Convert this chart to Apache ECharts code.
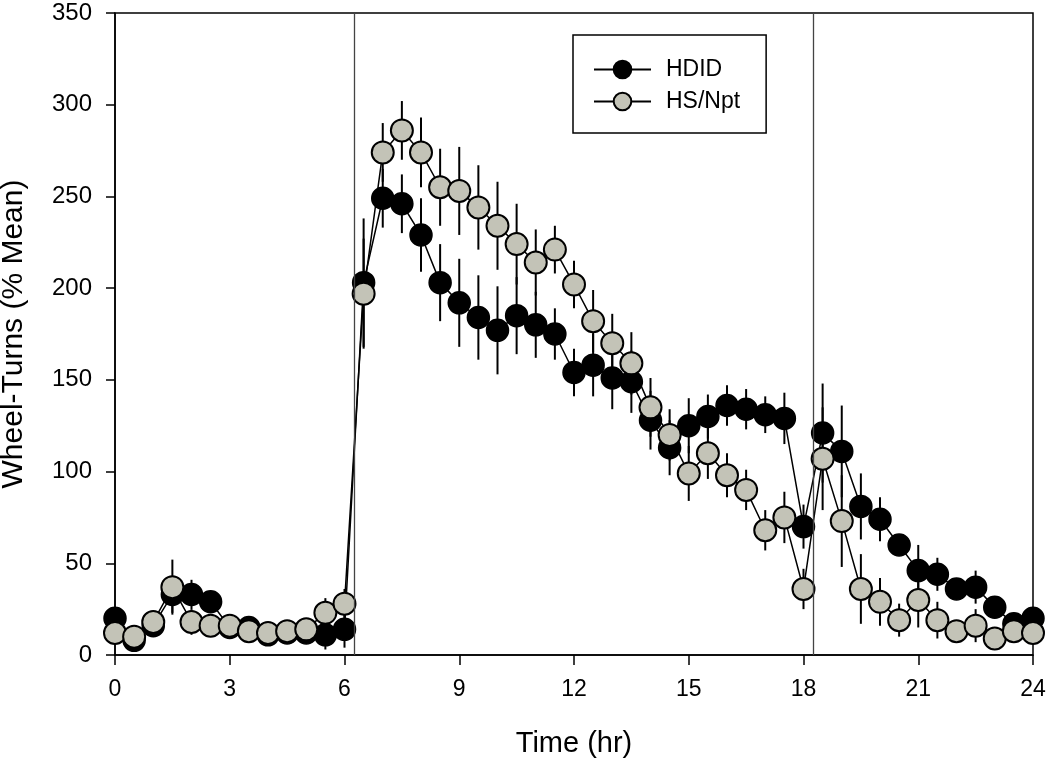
<!DOCTYPE html>
<html>
<head>
<meta charset="utf-8">
<script src="https://cdn.jsdelivr.net/npm/echarts@6/dist/echarts.min.js"></script>
<style>
html,body{margin:0;padding:0;background:#fff;}
#chart{width:1050px;height:764px;}
</style>
</head>
<body>
<div id="chart"></div>
<script>
const hours = [0,0.5,1,1.5,2,2.5,3,3.5,4,4.5,5,5.5,6,6.5,7,7.5,8,8.5,9,9.5,10,10.5,11,11.5,12,12.5,13,13.5,14,14.5,15,15.5,16,16.5,17,17.5,18,18.5,19,19.5,20,20.5,21,21.5,22,22.5,23,23.5,24];
const hdid = [20,8,16,33,33,29,15,15,11,12,12,11,14,203,249,246,229,203,192,184,177,185,180,175,154,158,151,149,128,113,125,130,136,134,131,129,70,121,111,81,74,60,46,44,36,37,26,17,20];
const hdidErr = [4,3,3,10,8,5,3,3,3,3,3,8,10,35,16,16,20,21,24,23,24,21,18,14,13,17,17,17,16,15,15,12,11,11,10,14,12,27,25,18,12,5,14,9,5,9,4,3,3];
const hsnpt = [12,10,18,37,18,16,16,13,12,13,14,23,28,197,274,286,274,255,253,244,234,224,214,221,202,182,170,159,135,120,99,110,98,90,68,75,36,107,73,36,29,19,30,19,13,16,9,13,12];
const hsnptErr = [3,3,3,15,7,4,4,3,3,3,3,8,8,30,16,16,19,21,24,23,24,22,18,13,13,17,16,17,16,14,15,14,12,11,11,14,11,28,25,19,13,9,15,10,5,9,4,3,3];
const xTicks = [0,3,6,9,12,15,18,21,24];
const yTicks = [0,50,100,150,200,250,300,350];
const phaseLines = [6.25, 18.25];
const seriesNames = ['HDID','HS/Npt'];

const FONT = "'Liberation Sans', Arial, sans-serif";
const greyFill = '#c3c3b7';

function pairs(v){ return hours.map((t,i)=>[t, v[i]]); }
function errData(v,e){ return hours.map((t,i)=>[t, v[i], e[i]]); }

function errRender(params, api){
  const x = api.value(0), y = api.value(1), e = api.value(2);
  const top = api.coord([x, y + e]);
  const bot = api.coord([x, y - e]);
  return {type:'line', shape:{x1:top[0], y1:top[1], x2:bot[0], y2:bot[1]}, style:{stroke:'#000', lineWidth:2}};
}

const chart = echarts.init(document.getElementById('chart'), null, {renderer:'canvas'});
chart.setOption({
  animation:false,
  backgroundColor:'#fff',
  grid:{left:115, right:17, top:13, bottom:109, show:true, borderColor:'#000', borderWidth:1.5, backgroundColor:'transparent', containLabel:false, outerBoundsMode:'none'},
  legend:{
    left:573, top:35, orient:'vertical',
    data:seriesNames,
    itemWidth:57, itemHeight:22, itemGap:9,
    padding:[23,26,20,20],
    borderColor:'#000', borderWidth:1.5,
    textStyle:{fontFamily:FONT, fontSize:23, color:'#000', lineHeight:22, padding:[0,0,0,10]}
  },
  xAxis:{
    type:'value', min:0, max:24, interval:3,
    axisLine:{show:true, onZero:false, lineStyle:{color:'#000', width:1.5}},
    axisTick:{show:true, length:10, lineStyle:{color:'#000', width:1.5}},
    axisLabel:{fontFamily:FONT, fontSize:23, color:'#000', margin:23, formatter:v=>xTicks.includes(v)?String(v):''},
    splitLine:{show:false},
    name:'Time (hr)', nameLocation:'middle', nameGap:74,
    nameTextStyle:{fontFamily:FONT, fontSize:29, color:'#000'}
  },
  yAxis:{
    type:'value', min:0, max:350, interval:50,
    axisLine:{show:true, lineStyle:{color:'#000', width:1.5}},
    axisTick:{show:true, length:9, lineStyle:{color:'#000', width:1.5}},
    axisLabel:{fontFamily:FONT, fontSize:24, color:'#000', margin:23, formatter:v=>yTicks.includes(v)?String(v):''},
    splitLine:{show:false},
    name:'Wheel-Turns (% Mean)', nameLocation:'middle', nameGap:86, nameRotate:90,
    nameTextStyle:{fontFamily:FONT, fontSize:30, color:'#000'}
  },
  series:[
    {
      type:'custom', name:'errHDID', z:1, silent:true,
      renderItem:errRender, encode:{x:0, y:1},
      data:errData(hdid, hdidErr),
      markLine:{
        silent:true, symbol:'none', label:{show:false},
        lineStyle:{color:'#444', width:1.3, type:'solid'},
        data:phaseLines.map(v=>({xAxis:v}))
      }
    },
    {
      type:'custom', name:'errHS', z:1, silent:true,
      renderItem:errRender, encode:{x:0, y:1},
      data:errData(hsnpt, hsnptErr)
    },
    {
      type:'line', name:seriesNames[0], z:2,
      data:pairs(hdid),
      symbol:'circle', symbolSize:22, showAllSymbol:true,
      lineStyle:{color:'#000', width:1.5},
      itemStyle:{color:'#000', borderColor:'#000', borderWidth:1.5}
    },
    {
      type:'line', name:seriesNames[1], z:3,
      data:pairs(hsnpt),
      symbol:'circle', symbolSize:22, showAllSymbol:true,
      lineStyle:{color:'#000', width:1.5},
      itemStyle:{color:greyFill, borderColor:'#000', borderWidth:2}
    }
  ]
});
</script>
</body>
</html>
